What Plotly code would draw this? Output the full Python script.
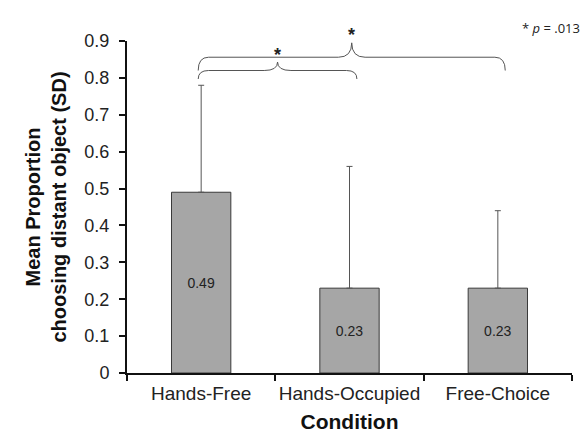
import plotly.graph_objects as go

# ---- data ----
conditions = ["Hands-Free", "Hands-Occupied", "Free-Choice"]
means = [0.49, 0.23, 0.23]
sds = [0.29, 0.33, 0.21]
bar_labels = ["0.49", "0.23", "0.23"]
# significant comparisons: (index a, index b)
comparisons = [(0, 1), (0, 2)]
p_note = "* <i>p</i> = .013"

FONT = "Liberation Sans, Arial, sans-serif"

fig = go.Figure()
fig.add_trace(go.Bar(
    x=conditions,
    y=means,
    width=0.40,
    marker=dict(color="#a6a6a6", line=dict(color="#3a3a3a", width=1)),
    text=bar_labels,
    textposition="inside",
    insidetextanchor="middle",
    textfont=dict(family=FONT, size=14, color="#222222"),
    error_y=dict(type="data", array=sds, arrayminus=[0, 0, 0], symmetric=False,
                 color="#555555", thickness=1, width=3),
    hoverinfo="skip",
))

# ---- braces ----
def brace_path(xa, xb, yb, yh, yt, d=0.07, dt=0.09):
    xm = (xa + xb) / 2
    return (f"M {xa},{yb} Q {xa},{yh} {xa + d},{yh} L {xm - dt},{yh} "
            f"Q {xm},{yh} {xm},{yt} Q {xm},{yh} {xm + dt},{yh} "
            f"L {xb - d},{yh} Q {xb},{yh} {xb},{yb}")

levels = [  # (bottom, horizontal, tip, star shift px) per comparison
    (0.797, 0.820, 0.843, 7),
    (0.820, 0.856, 0.895, 8),
]
shapes = []
annotations = []
for (a, b), (yb, yh, yt, ysh) in zip(comparisons, levels):
    xa = a - 0.02
    xb = b + 0.05
    shapes.append(dict(type="path", xref="x", yref="y",
                       path=brace_path(xa, xb, yb, yh, yt),
                       line=dict(color="#555555", width=1)))
    annotations.append(dict(x=(xa + xb) / 2, y=yt, xref="x", yref="y",
                            yanchor="middle", yshift=ysh,
                            text="<b>*</b>", showarrow=False,
                            font=dict(family=FONT, size=18, color="#222222")))

annotations.append(dict(x=1.0, y=1.0, xref="paper", yref="paper",
                        xanchor="right", yanchor="middle", xshift=10, yshift=13,
                        text=p_note, showarrow=False,
                        font=dict(family="Open Sans, sans-serif", size=13, color="#222222")))

fig.update_layout(
    width=588, height=433,
    margin=dict(l=119, r=24, t=33, b=68),
    paper_bgcolor="white", plot_bgcolor="white",
    showlegend=False,
    shapes=shapes,
    annotations=annotations,
    font=dict(family=FONT, color="#222222"),
    xaxis=dict(
        type="category",
        range=[-0.5, 2.5],
        automargin=False,
        showline=True, linecolor="#111111", linewidth=2,
        ticks="outside", tickson="boundaries", ticklen=6, tickwidth=1.5, tickcolor="#111111",
        tickfont=dict(family=FONT, size=19, color="#222222"),
        tickangle=0,
        ticklabelstandoff=2,
        showgrid=False,
        title=dict(text="<b>Condition</b>", font=dict(family=FONT, size=21, color="#111111"), standoff=12),
    ),
    yaxis=dict(
        range=[0, 0.9],
        dtick=0.1,
        automargin=False,
        showline=True, linecolor="#111111", linewidth=2,
        ticks="outside", ticklen=6, tickwidth=1.5, tickcolor="#111111",
        tickfont=dict(family=FONT, size=18, color="#222222"),
        ticklabelstandoff=6,
        showgrid=False, zeroline=False,
        title=dict(text="<b>Mean Proportion<br>choosing distant object (SD)</b>",
                   font=dict(family=FONT, size=20, color="#111111"), standoff=12),
    ),
)

fig.write_html("out.html")
